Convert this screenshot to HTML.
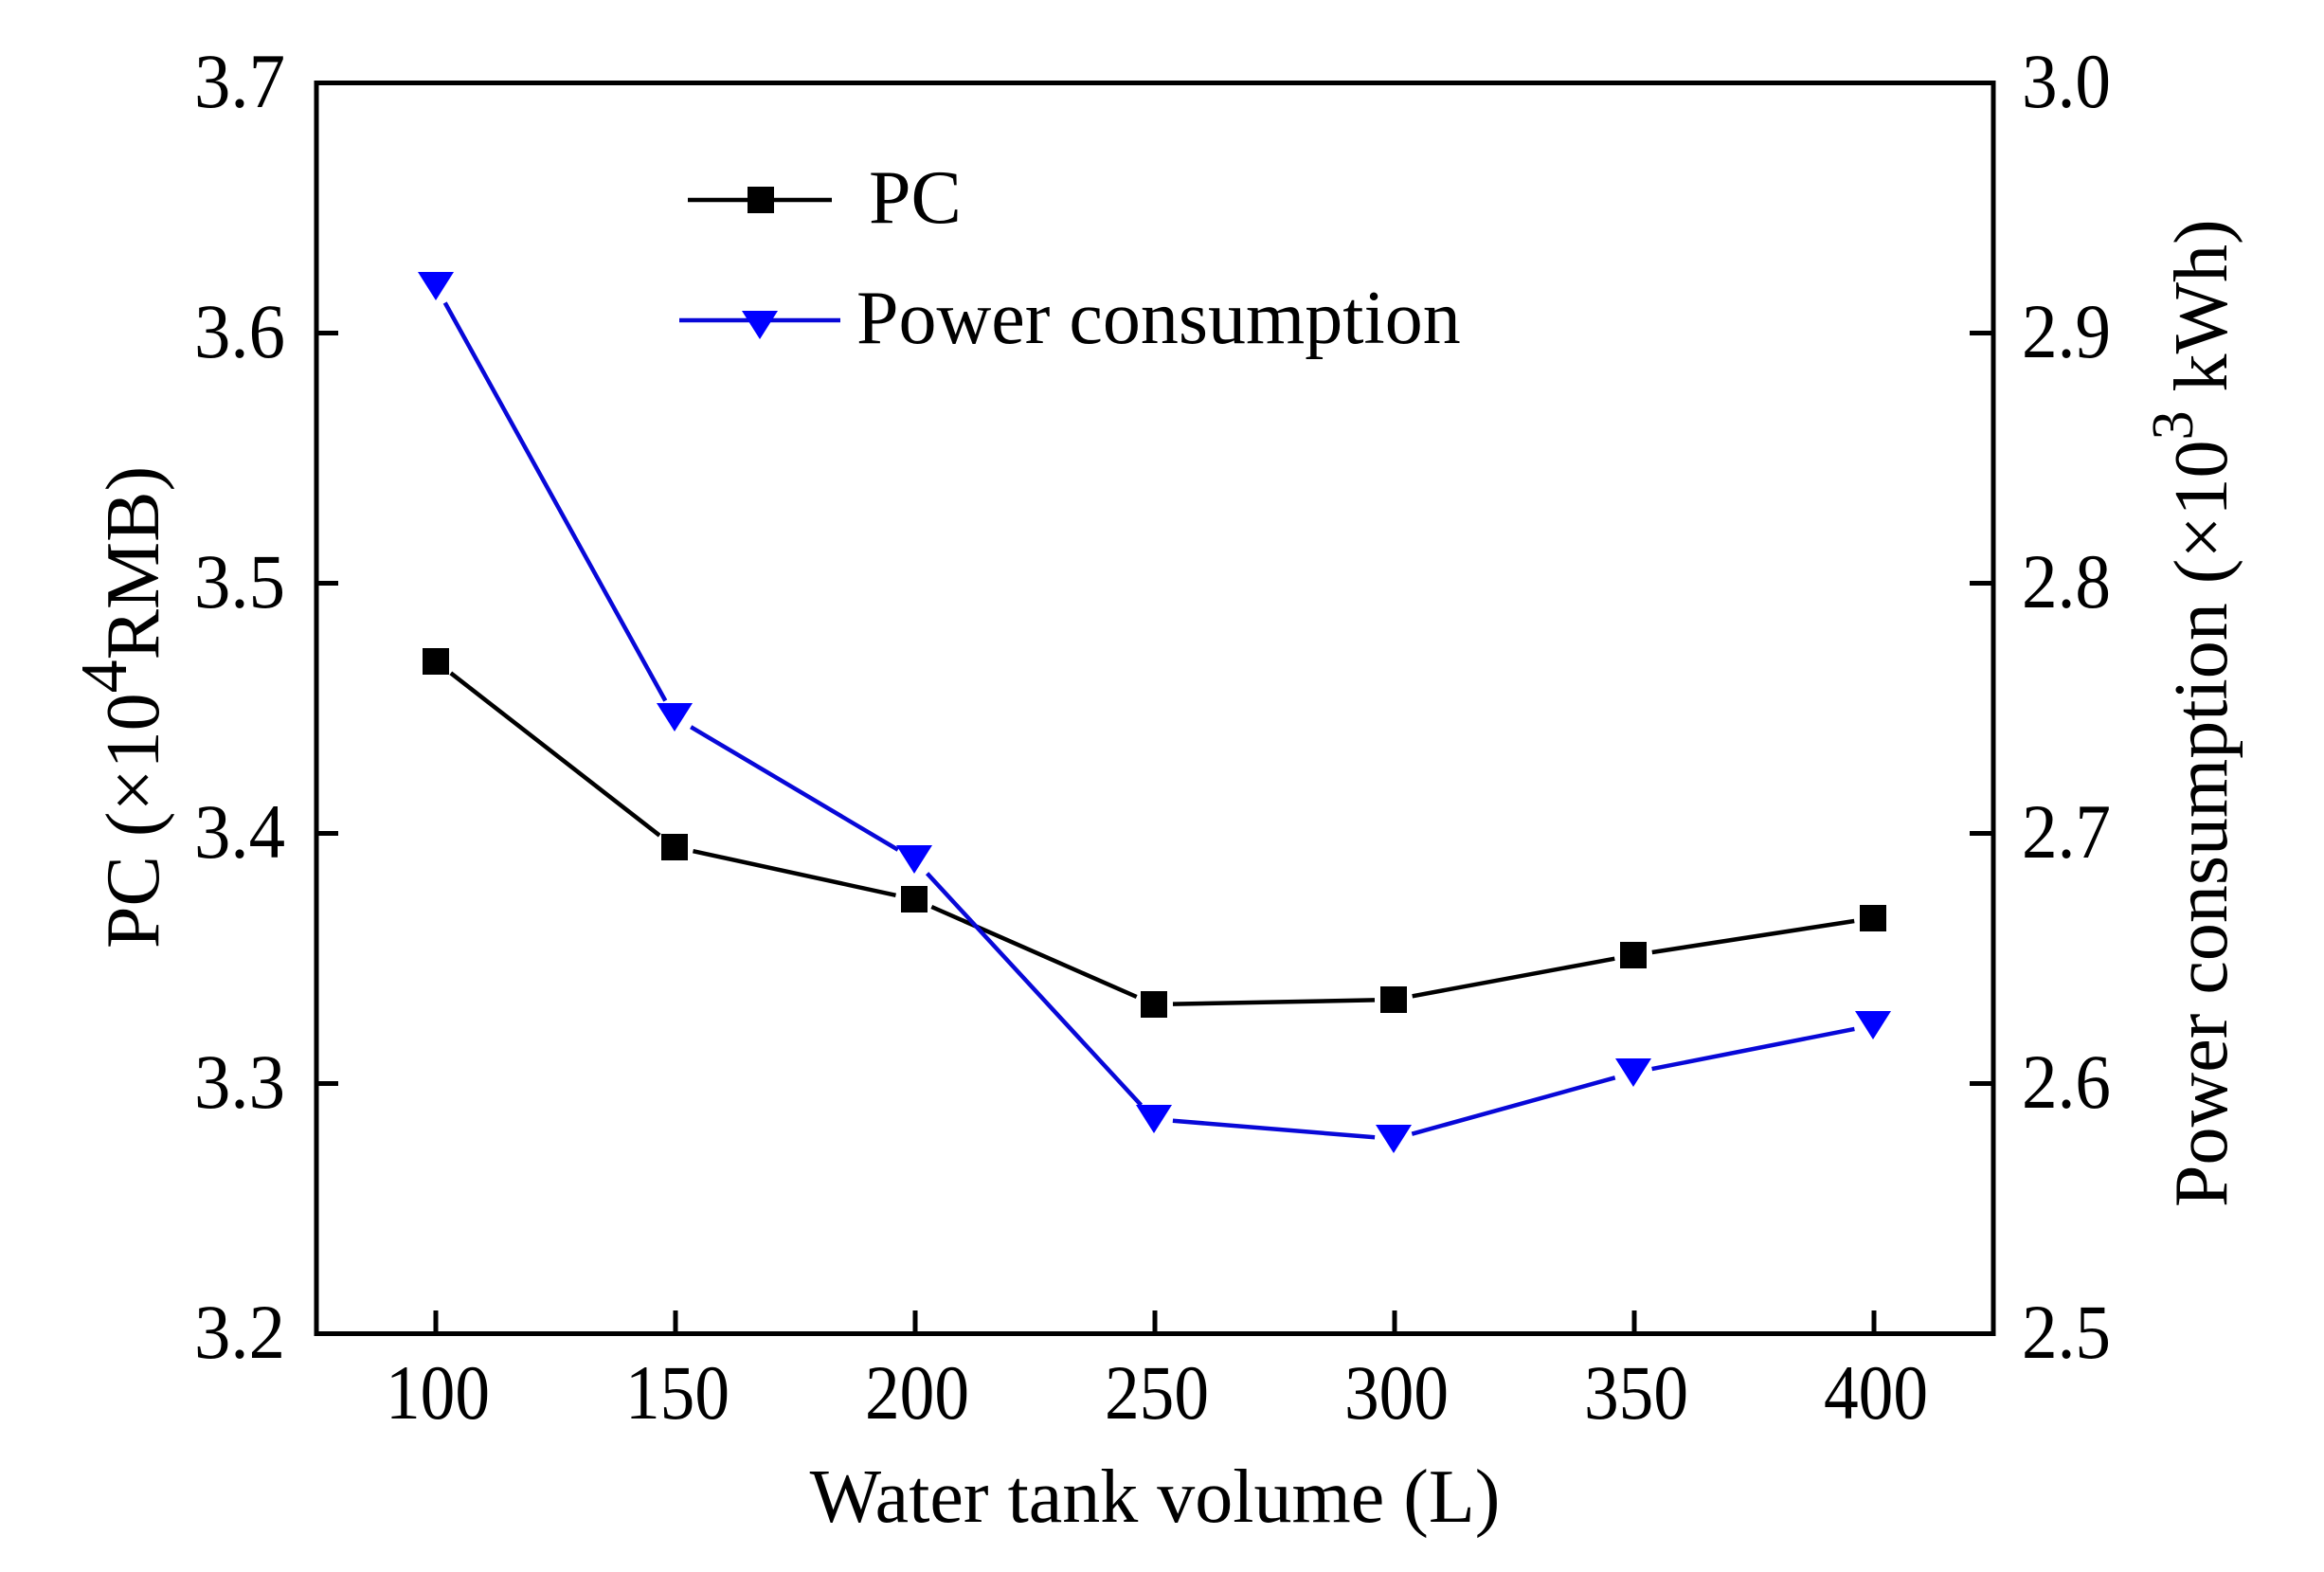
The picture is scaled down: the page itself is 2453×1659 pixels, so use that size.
<!DOCTYPE html>
<html>
<head>
<meta charset="utf-8">
<style>
html,body{margin:0;padding:0;background:#fff;}
svg{display:block;}
text{font-family:"Liberation Serif","Times New Roman",serif;fill:#000;}
</style>
</head>
<body>
<svg width="2453" height="1659" viewBox="0 0 2453 1659" xmlns="http://www.w3.org/2000/svg">
<rect width="2453" height="1659" fill="#fff"/>

<!-- frame -->
<rect x="334" y="87.5" width="1770" height="1320" fill="none" stroke="#000" stroke-width="5"/>

<!-- left ticks -->
<g stroke="#000" stroke-width="5">
<line x1="334" y1="1143.5" x2="357" y2="1143.5"/>
<line x1="334" y1="879.5" x2="357" y2="879.5"/>
<line x1="334" y1="615.5" x2="357" y2="615.5"/>
<line x1="334" y1="351.5" x2="357" y2="351.5"/>
<!-- right ticks -->
<line x1="2104" y1="1143.5" x2="2079" y2="1143.5"/>
<line x1="2104" y1="879.5" x2="2079" y2="879.5"/>
<line x1="2104" y1="615.5" x2="2079" y2="615.5"/>
<line x1="2104" y1="351.5" x2="2079" y2="351.5"/>
<!-- bottom ticks -->
<line x1="460" y1="1407.5" x2="460" y2="1383"/>
<line x1="713" y1="1407.5" x2="713" y2="1383"/>
<line x1="966" y1="1407.5" x2="966" y2="1383"/>
<line x1="1219" y1="1407.5" x2="1219" y2="1383"/>
<line x1="1472" y1="1407.5" x2="1472" y2="1383"/>
<line x1="1725" y1="1407.5" x2="1725" y2="1383"/>
<line x1="1978" y1="1407.5" x2="1978" y2="1383"/>
</g>

<!-- left tick labels -->
<g font-size="82" text-anchor="end">
<text x="301" y="1433" textLength="96" lengthAdjust="spacingAndGlyphs">3.2</text>
<text x="301" y="1169" textLength="96" lengthAdjust="spacingAndGlyphs">3.3</text>
<text x="301" y="905" textLength="96" lengthAdjust="spacingAndGlyphs">3.4</text>
<text x="301" y="641" textLength="96" lengthAdjust="spacingAndGlyphs">3.5</text>
<text x="301" y="377" textLength="96" lengthAdjust="spacingAndGlyphs">3.6</text>
<text x="301" y="113" textLength="96" lengthAdjust="spacingAndGlyphs">3.7</text>
</g>
<!-- right tick labels -->
<g font-size="82" text-anchor="start">
<text x="2134" y="1433" textLength="94" lengthAdjust="spacingAndGlyphs">2.5</text>
<text x="2134" y="1169" textLength="94" lengthAdjust="spacingAndGlyphs">2.6</text>
<text x="2134" y="905" textLength="94" lengthAdjust="spacingAndGlyphs">2.7</text>
<text x="2134" y="641" textLength="94" lengthAdjust="spacingAndGlyphs">2.8</text>
<text x="2134" y="377" textLength="94" lengthAdjust="spacingAndGlyphs">2.9</text>
<text x="2134" y="113" textLength="94" lengthAdjust="spacingAndGlyphs">3.0</text>
</g>
<!-- bottom tick labels -->
<g font-size="82" text-anchor="middle">
<text x="462" y="1497" textLength="110" lengthAdjust="spacingAndGlyphs">100</text>
<text x="715" y="1497" textLength="110" lengthAdjust="spacingAndGlyphs">150</text>
<text x="968" y="1497" textLength="110" lengthAdjust="spacingAndGlyphs">200</text>
<text x="1221" y="1497" textLength="110" lengthAdjust="spacingAndGlyphs">250</text>
<text x="1474" y="1497" textLength="110" lengthAdjust="spacingAndGlyphs">300</text>
<text x="1727" y="1497" textLength="110" lengthAdjust="spacingAndGlyphs">350</text>
<text x="1980" y="1497" textLength="110" lengthAdjust="spacingAndGlyphs">400</text>
</g>

<!-- axis titles -->
<text x="1219" y="1606" font-size="80" text-anchor="middle">Water tank volume (L)</text>
<text transform="translate(167,1001) rotate(-90)" font-size="80">PC (×10<tspan font-size="70" dy="-34">4</tspan><tspan dy="34">RMB)</tspan></text>
<text transform="translate(2350,1274) rotate(-90)" font-size="80">Power consumption (×10<tspan font-size="62" dy="-36">3</tspan><tspan dy="36"> kWh)</tspan></text>

<!-- PC series lines -->
<g stroke="#000" stroke-width="4.5" fill="none" stroke-linecap="butt">
<line x1="475.8" y1="710.3" x2="696.2" y2="881.7"/>
<line x1="731.5" y1="898.2" x2="945.5" y2="944.8"/>
<line x1="983.3" y1="957.0" x2="1199.7" y2="1052.0"/>
<line x1="1238" y1="1059.6" x2="1451" y2="1055.4"/>
<line x1="1490.7" y1="1051.3" x2="1704.3" y2="1011.7"/>
<line x1="1743.8" y1="1005" x2="1957.2" y2="972"/>
</g>
<!-- Power series lines -->
<g stroke="#0808d8" stroke-width="4.5" fill="none">
<line x1="469.7" y1="319.5" x2="702.3" y2="739.5"/>
<line x1="729.2" y1="767.2" x2="947.8" y2="896.8"/>
<line x1="978.6" y1="921.7" x2="1204.4" y2="1166.3"/>
<line x1="1237.9" y1="1182.7" x2="1451.1" y2="1200.3"/>
<line x1="1490.3" y1="1196.7" x2="1704.7" y2="1137.3"/>
<line x1="1743.6" y1="1128.1" x2="1957.4" y2="1085.9"/>
</g>

<!-- PC markers -->
<g fill="#000">
<rect x="446" y="684" width="28" height="28"/>
<rect x="698" y="880" width="28" height="28"/>
<rect x="951" y="935" width="28" height="28"/>
<rect x="1204" y="1046" width="28" height="28"/>
<rect x="1457" y="1041" width="28" height="28"/>
<rect x="1710" y="994" width="28" height="28"/>
<rect x="1963" y="955" width="28" height="28"/>
</g>
<!-- Power markers -->
<g fill="#0000ff">
<polygon points="441,287 479,287 460,317"/>
<polygon points="693,742 731,742 712,772"/>
<polygon points="946,892 984,892 965,922"/>
<polygon points="1199,1166 1237,1166 1218,1196"/>
<polygon points="1452,1187 1490,1187 1471,1217"/>
<polygon points="1705,1117 1743,1117 1724,1147"/>
<polygon points="1958,1067 1996,1067 1977,1097"/>
</g>

<!-- legend -->
<line x1="726" y1="211" x2="878" y2="211" stroke="#000" stroke-width="4.5"/>
<rect x="789" y="197" width="28" height="28" fill="#000"/>
<text x="917" y="235" font-size="80">PC</text>
<line x1="717" y1="338" x2="887" y2="338" stroke="#0808d8" stroke-width="4.5"/>
<polygon points="783,328 821,328 802,358" fill="#0000ff"/>
<text x="904" y="362" font-size="80">Power consumption</text>
</svg>
</body>
</html>
